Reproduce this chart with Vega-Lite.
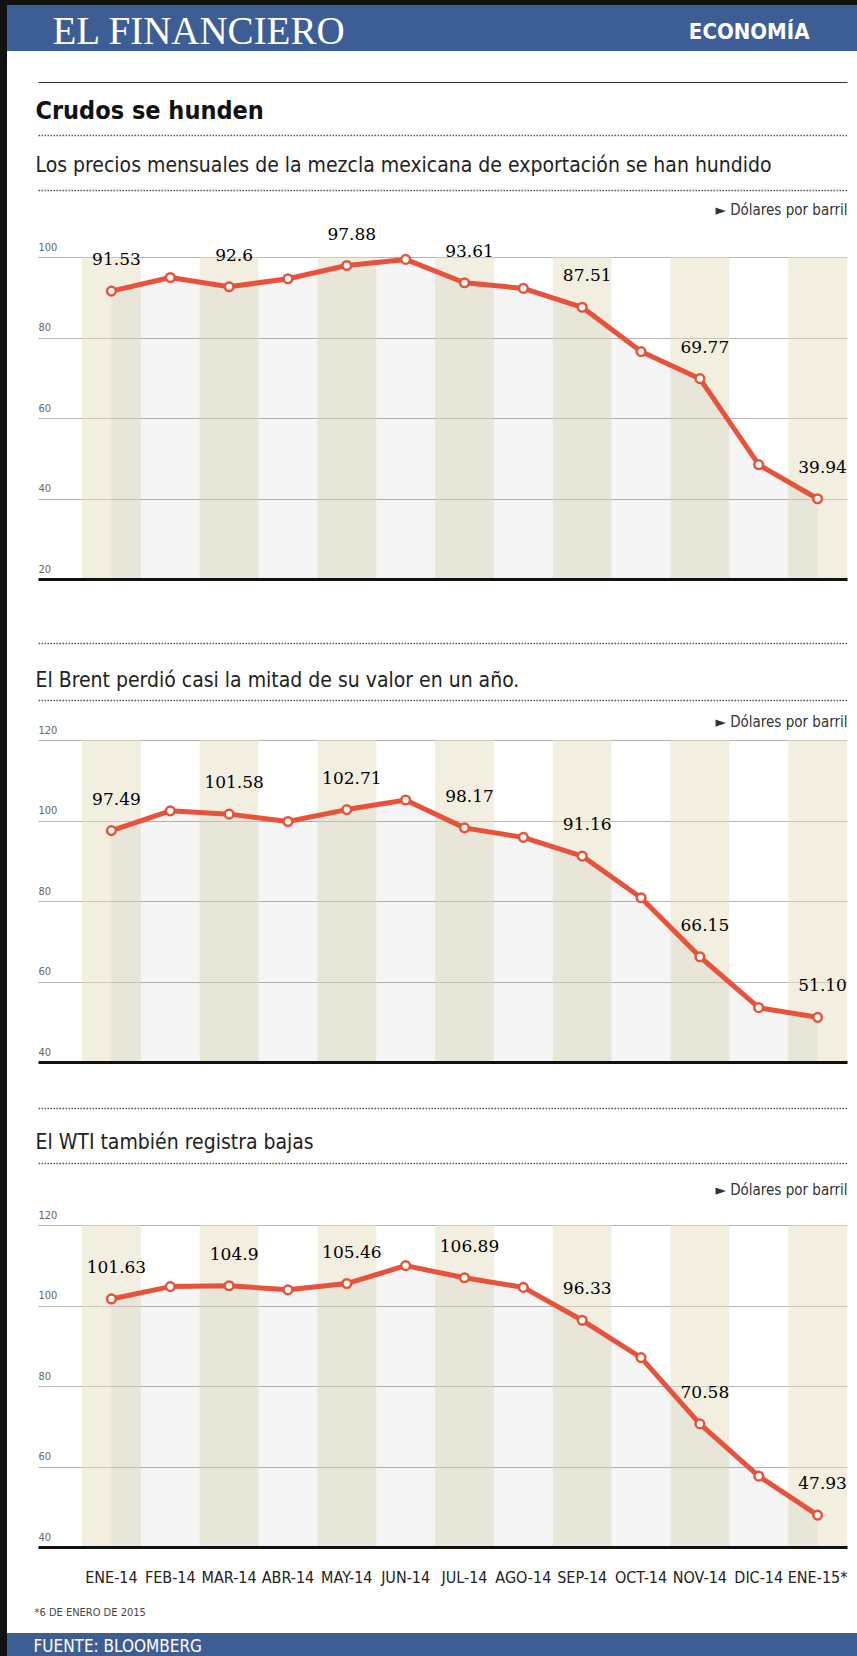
{
  "$schema": "https://vega.github.io/schema/vega-lite/v6.json",
  "padding": 0,
  "background": "white",
  "spacing": 0,
  "config": {
    "view": {"stroke": null},
    "font": "DejaVu Sans Condensed",
    "axis": {"labelFont": "DejaVu Sans Condensed", "titleFont": "DejaVu Sans Condensed", "titleFontWeight": "normal", "titleColor": "#222", "labelColor": "#555", "titleLimit": 2000},
    "axisX": {"labels": false, "ticks": false, "grid": false, "domain": false, "minExtent": 0}
  },
  "datasets": {
    "precios": [
      {"mes": "ENE-14", "mezcla": 91.53, "brent": 97.49, "wti": 101.63},
      {"mes": "FEB-14", "mezcla": 94.9, "brent": 102.4, "wti": 104.7},
      {"mes": "MAR-14", "mezcla": 92.6, "brent": 101.58, "wti": 104.9},
      {"mes": "ABR-14", "mezcla": 94.6, "brent": 99.75, "wti": 103.9},
      {"mes": "MAY-14", "mezcla": 97.88, "brent": 102.71, "wti": 105.46},
      {"mes": "JUN-14", "mezcla": 99.4, "brent": 105.1, "wti": 109.9},
      {"mes": "JUL-14", "mezcla": 93.61, "brent": 98.17, "wti": 106.89},
      {"mes": "AGO-14", "mezcla": 92.2, "brent": 95.8, "wti": 104.5},
      {"mes": "SEP-14", "mezcla": 87.51, "brent": 91.16, "wti": 96.33},
      {"mes": "OCT-14", "mezcla": 76.5, "brent": 80.8, "wti": 87.05},
      {"mes": "NOV-14", "mezcla": 69.77, "brent": 66.15, "wti": 70.58},
      {"mes": "DIC-14", "mezcla": 48.4, "brent": 53.5, "wti": 57.6},
      {"mes": "ENE-15*", "mezcla": 39.94, "brent": 51.1, "wti": 47.93}
    ]
  },
  "vconcat": [
    {
      "width": 857, "height": 5,
      "view": {"fill": "#111111", "stroke": null},
      "data": {"values": []},
      "mark": "point"
    },
    {
      "spacing": 0,
      "hconcat": [
        {
          "width": 7, "height": 76,
          "view": {"fill": "#111111", "stroke": null},
          "data": {"values": []},
          "mark": "point"
        },
        {
          "width": 850, "height": 46,
          "view": {"fill": "#3d5e95", "stroke": null},
          "data": {"values": [{"marca": "EL FINANCIERO", "seccion": "ECONOMÍA"}]},
          "mark": {"type": "text"},
          "encoding": {
            "text": {"value": ""},
            "x": {"field": "seccion", "type": "nominal", "axis": {"orient": "bottom", "offset": 30, "domain": false, "labels": false, "ticks": false, "title": "ECONOMÍA", "titleX": 802, "titleY": -43, "titleAlign": "right", "titleBaseline": "alphabetic", "titleFont": "DejaVu Sans Condensed", "titleFontWeight": "bold", "titleFontSize": 22, "titleColor": "white"}},
            "y": {"field": "marca", "type": "nominal", "axis": {"domain": false, "ticks": false, "labels": false, "grid": false, "minExtent": 0, "maxExtent": 0, "title": "EL FINANCIERO", "titleAngle": 0, "titleX": 45, "titleY": 38, "titleAlign": "left", "titleBaseline": "alphabetic", "titleFont": "Liberation Serif", "titleFontWeight": "normal", "titleFontSize": 39, "titleColor": "white"}}
          }
        }
      ]
    },
    {
      "spacing": 0,
      "hconcat": [
        {
          "width": 7, "height": 1552,
          "view": {"fill": "#111111", "stroke": null},
          "data": {"values": []},
          "mark": "point"
        },
        {
          "spacing": 0,
          "vconcat": [
            {
              "width": 809, "height": 1,
              "data": {"values": []},
              "mark": "point"
            },
            {
              "width": 809, "height": 322,
              "data": {"name": "precios"},
              "resolve": {"axis": {"x": "independent"}},
              "layer": [
                {
                  "transform": [{"filter": {"field": "mes", "oneOf": ["ENE-14", "MAR-14", "MAY-14", "JUL-14", "SEP-14", "NOV-14", "ENE-15*"]}}],
                  "mark": {"type": "rect", "fill": "#e6dfc4", "opacity": 0.5},
                  "encoding": {
                    "x": {"field": "mes", "type": "nominal", "scale": {"type": "band", "domain": ["ENE-14", "FEB-14", "MAR-14", "ABR-14", "MAY-14", "JUN-14", "JUL-14", "AGO-14", "SEP-14", "OCT-14", "NOV-14", "DIC-14", "ENE-15*"], "paddingInner": 0, "paddingOuter": 0.3739, "align": 1},
                      "axis": {"orient": "bottom", "domain": true, "domainColor": "#111", "domainWidth": 3, "title": "► Dólares por barril", "titleX": 809, "titleY": -365, "titleAlign": "right", "titleBaseline": "alphabetic", "titleFontSize": 15, "titleColor": "#333"}}
                  }
                },
                {
                  "mark": {"type": "area", "color": "#777777", "opacity": 0.07, "clip": true},
                  "encoding": {
                    "x": {"field": "mes", "type": "nominal", "scale": {"type": "band", "domain": ["ENE-14", "FEB-14", "MAR-14", "ABR-14", "MAY-14", "JUN-14", "JUL-14", "AGO-14", "SEP-14", "OCT-14", "NOV-14", "DIC-14", "ENE-15*"], "paddingInner": 0, "paddingOuter": 0.3739, "align": 1},
                      "axis": {"orient": "top", "offset": 175, "domain": true, "domainColor": "#333", "domainWidth": 1.2, "title": null}},
                    "y": {"field": "mezcla", "type": "quantitative", "scale": {"domain": [20, 100], "zero": false, "nice": false},
                      "axis": {"orient": "left", "values": [20, 40, 60, 80, 100], "grid": true, "gridColor": "#b3b3b3", "gridWidth": 1, "domain": false, "ticks": false, "labelAlign": "left", "labelBaseline": "alphabetic", "labelPadding": 0, "labelOffset": -7, "labelFontSize": 11, "labelColor": "#666", "minExtent": 31, "maxExtent": 31, "title": null}}
                  }
                },
                {
                  "mark": {"type": "line", "color": "#e8513a", "strokeWidth": 5, "strokeJoin": "round"},
                  "encoding": {
                    "x": {"field": "mes", "type": "nominal", "scale": {"type": "band", "domain": ["ENE-14", "FEB-14", "MAR-14", "ABR-14", "MAY-14", "JUN-14", "JUL-14", "AGO-14", "SEP-14", "OCT-14", "NOV-14", "DIC-14", "ENE-15*"], "paddingInner": 0, "paddingOuter": 0.3739, "align": 1},
                      "axis": {"orient": "top", "offset": 122, "domain": true, "domainColor": "#555", "domainDash": [1.5, 1.5], "domainWidth": 1.5, "title": "Crudos se hunden", "titleX": -3, "titleY": -17, "titleAlign": "left", "titleBaseline": "alphabetic", "titleFontSize": 25, "titleFontWeight": "bold", "titleColor": "#111"}},
                    "y": {"field": "mezcla", "type": "quantitative", "scale": {"domain": [20, 100], "zero": false, "nice": false}, "title": null}
                  }
                },
                {
                  "mark": {"type": "point", "shape": "circle", "filled": true, "fill": "white", "stroke": "#e8513a", "strokeWidth": 2.5, "size": 75, "opacity": 1},
                  "encoding": {
                    "x": {"field": "mes", "type": "nominal", "scale": {"type": "band", "domain": ["ENE-14", "FEB-14", "MAR-14", "ABR-14", "MAY-14", "JUN-14", "JUL-14", "AGO-14", "SEP-14", "OCT-14", "NOV-14", "DIC-14", "ENE-15*"], "paddingInner": 0, "paddingOuter": 0.3739, "align": 1},
                      "axis": {"orient": "top", "offset": 67, "domain": true, "domainColor": "#555", "domainDash": [1.5, 1.5], "domainWidth": 1.5, "title": "Los precios mensuales de la mezcla mexicana de exportación se han hundido", "titleX": -3, "titleY": -19, "titleAlign": "left", "titleBaseline": "alphabetic", "titleFontSize": 21, "titleColor": "#222"}},
                    "y": {"field": "mezcla", "type": "quantitative", "scale": {"domain": [20, 100], "zero": false, "nice": false}, "title": null}
                  }
                },
                {
                  "transform": [{"filter": {"field": "mes", "oneOf": ["ENE-14", "MAR-14", "MAY-14", "JUL-14", "SEP-14", "NOV-14", "ENE-15*"]}}],
                  "mark": {"type": "text", "font": "DejaVu Serif", "fontSize": 17, "color": "#000", "dy": -31, "dx": 5},
                  "encoding": {
                    "x": {"field": "mes", "type": "nominal", "scale": {"type": "band", "domain": ["ENE-14", "FEB-14", "MAR-14", "ABR-14", "MAY-14", "JUN-14", "JUL-14", "AGO-14", "SEP-14", "OCT-14", "NOV-14", "DIC-14", "ENE-15*"], "paddingInner": 0, "paddingOuter": 0.3739, "align": 1}, "axis": null},
                    "y": {"field": "mezcla", "type": "quantitative", "scale": {"domain": [20, 100], "zero": false, "nice": false}, "title": null},
                    "text": {"field": "mezcla", "type": "quantitative"}
                  }
                }
              ]
            },
            {
              "width": 809, "height": 322,
              "data": {"name": "precios"},
              "resolve": {"axis": {"x": "independent"}},
              "layer": [
                {
                  "transform": [{"filter": {"field": "mes", "oneOf": ["ENE-14", "MAR-14", "MAY-14", "JUL-14", "SEP-14", "NOV-14", "ENE-15*"]}}],
                  "mark": {"type": "rect", "fill": "#e6dfc4", "opacity": 0.5},
                  "encoding": {
                    "x": {"field": "mes", "type": "nominal", "scale": {"type": "band", "domain": ["ENE-14", "FEB-14", "MAR-14", "ABR-14", "MAY-14", "JUN-14", "JUL-14", "AGO-14", "SEP-14", "OCT-14", "NOV-14", "DIC-14", "ENE-15*"], "paddingInner": 0, "paddingOuter": 0.3739, "align": 1},
                      "axis": {"orient": "bottom", "domain": true, "domainColor": "#111", "domainWidth": 3, "title": null}}
                  }
                },
                {
                  "mark": {"type": "area", "color": "#777777", "opacity": 0.07, "clip": true},
                  "encoding": {
                    "x": {"field": "mes", "type": "nominal", "scale": {"type": "band", "domain": ["ENE-14", "FEB-14", "MAR-14", "ABR-14", "MAY-14", "JUN-14", "JUL-14", "AGO-14", "SEP-14", "OCT-14", "NOV-14", "DIC-14", "ENE-15*"], "paddingInner": 0, "paddingOuter": 0.3739, "align": 1},
                      "axis": {"orient": "top", "offset": 161, "domain": false, "title": "► Dólares por barril", "titleX": 809, "titleY": 147, "titleAlign": "right", "titleBaseline": "alphabetic", "titleFontSize": 15, "titleColor": "#333"}},
                    "y": {"field": "brent", "type": "quantitative", "scale": {"domain": [40, 120], "zero": false, "nice": false},
                      "axis": {"orient": "left", "values": [40, 60, 80, 100, 120], "grid": true, "gridColor": "#b3b3b3", "gridWidth": 1, "domain": false, "ticks": false, "labelAlign": "left", "labelBaseline": "alphabetic", "labelPadding": 0, "labelOffset": -7, "labelFontSize": 11, "labelColor": "#666", "minExtent": 31, "maxExtent": 31, "title": null}}
                  }
                },
                {
                  "mark": {"type": "line", "color": "#e8513a", "strokeWidth": 5, "strokeJoin": "round"},
                  "encoding": {
                    "x": {"field": "mes", "type": "nominal", "scale": {"type": "band", "domain": ["ENE-14", "FEB-14", "MAR-14", "ABR-14", "MAY-14", "JUN-14", "JUL-14", "AGO-14", "SEP-14", "OCT-14", "NOV-14", "DIC-14", "ENE-15*"], "paddingInner": 0, "paddingOuter": 0.3739, "align": 1},
                      "axis": {"orient": "top", "offset": 97, "domain": true, "domainColor": "#555", "domainDash": [1.5, 1.5], "domainWidth": 1.5, "title": null}},
                    "y": {"field": "brent", "type": "quantitative", "scale": {"domain": [40, 120], "zero": false, "nice": false}, "title": null}
                  }
                },
                {
                  "mark": {"type": "point", "shape": "circle", "filled": true, "fill": "white", "stroke": "#e8513a", "strokeWidth": 2.5, "size": 75, "opacity": 1},
                  "encoding": {
                    "x": {"field": "mes", "type": "nominal", "scale": {"type": "band", "domain": ["ENE-14", "FEB-14", "MAR-14", "ABR-14", "MAY-14", "JUN-14", "JUL-14", "AGO-14", "SEP-14", "OCT-14", "NOV-14", "DIC-14", "ENE-15*"], "paddingInner": 0, "paddingOuter": 0.3739, "align": 1},
                      "axis": {"orient": "top", "offset": 40, "domain": true, "domainColor": "#555", "domainDash": [1.5, 1.5], "domainWidth": 1.5, "title": "El Brent perdió casi la mitad de su valor en un año.", "titleX": -3, "titleY": -14, "titleAlign": "left", "titleBaseline": "alphabetic", "titleFontSize": 21, "titleColor": "#222"}},
                    "y": {"field": "brent", "type": "quantitative", "scale": {"domain": [40, 120], "zero": false, "nice": false}, "title": null}
                  }
                },
                {
                  "transform": [{"filter": {"field": "mes", "oneOf": ["ENE-14", "MAR-14", "MAY-14", "JUL-14", "SEP-14", "NOV-14", "ENE-15*"]}}],
                  "mark": {"type": "text", "font": "DejaVu Serif", "fontSize": 17, "color": "#000", "dy": -31, "dx": 5},
                  "encoding": {
                    "x": {"field": "mes", "type": "nominal", "scale": {"type": "band", "domain": ["ENE-14", "FEB-14", "MAR-14", "ABR-14", "MAY-14", "JUN-14", "JUL-14", "AGO-14", "SEP-14", "OCT-14", "NOV-14", "DIC-14", "ENE-15*"], "paddingInner": 0, "paddingOuter": 0.3739, "align": 1}, "axis": null},
                    "y": {"field": "brent", "type": "quantitative", "scale": {"domain": [40, 120], "zero": false, "nice": false}, "title": null},
                    "text": {"field": "brent", "type": "quantitative", "format": ".2f"}
                  }
                }
              ]
            },
            {
              "width": 809, "height": 322,
              "data": {"name": "precios"},
              "resolve": {"axis": {"x": "independent"}},
              "layer": [
                {
                  "transform": [{"filter": {"field": "mes", "oneOf": ["ENE-14", "MAR-14", "MAY-14", "JUL-14", "SEP-14", "NOV-14", "ENE-15*"]}}],
                  "mark": {"type": "rect", "fill": "#e6dfc4", "opacity": 0.5},
                  "encoding": {
                    "x": {"field": "mes", "type": "nominal", "scale": {"type": "band", "domain": ["ENE-14", "FEB-14", "MAR-14", "ABR-14", "MAY-14", "JUN-14", "JUL-14", "AGO-14", "SEP-14", "OCT-14", "NOV-14", "DIC-14", "ENE-15*"], "paddingInner": 0, "paddingOuter": 0.3739, "align": 1},
                      "axis": {"orient": "bottom", "domain": true, "domainColor": "#111", "domainWidth": 3, "labels": true, "labelAngle": 0, "labelPadding": 35, "labelBaseline": "alphabetic", "labelFontSize": 16, "labelColor": "#222", "title": "*6 DE ENERO DE 2015", "titleX": -4, "titleY": 68, "titleAlign": "left", "titleBaseline": "alphabetic", "titleFontSize": 11, "titleColor": "#444"}}
                  }
                },
                {
                  "mark": {"type": "area", "color": "#777777", "opacity": 0.07, "clip": true},
                  "encoding": {
                    "x": {"field": "mes", "type": "nominal", "scale": {"type": "band", "domain": ["ENE-14", "FEB-14", "MAR-14", "ABR-14", "MAY-14", "JUN-14", "JUL-14", "AGO-14", "SEP-14", "OCT-14", "NOV-14", "DIC-14", "ENE-15*"], "paddingInner": 0, "paddingOuter": 0.3739, "align": 1},
                      "axis": {"orient": "top", "offset": 163, "domain": false, "title": null}},
                    "y": {"field": "wti", "type": "quantitative", "scale": {"domain": [40, 120], "zero": false, "nice": false},
                      "axis": {"orient": "left", "values": [40, 60, 80, 100, 120], "grid": true, "gridColor": "#b3b3b3", "gridWidth": 1, "domain": false, "ticks": false, "labelAlign": "left", "labelBaseline": "alphabetic", "labelPadding": 0, "labelOffset": -7, "labelFontSize": 11, "labelColor": "#666", "minExtent": 31, "maxExtent": 31, "title": null}}
                  }
                },
                {
                  "mark": {"type": "line", "color": "#e8513a", "strokeWidth": 5, "strokeJoin": "round"},
                  "encoding": {
                    "x": {"field": "mes", "type": "nominal", "scale": {"type": "band", "domain": ["ENE-14", "FEB-14", "MAR-14", "ABR-14", "MAY-14", "JUN-14", "JUL-14", "AGO-14", "SEP-14", "OCT-14", "NOV-14", "DIC-14", "ENE-15*"], "paddingInner": 0, "paddingOuter": 0.3739, "align": 1},
                      "axis": {"orient": "top", "offset": 117, "domain": true, "domainColor": "#555", "domainDash": [1.5, 1.5], "domainWidth": 1.5, "title": "► Dólares por barril", "titleX": 809, "titleY": 86, "titleAlign": "right", "titleBaseline": "alphabetic", "titleFontSize": 15, "titleColor": "#333"}},
                    "y": {"field": "wti", "type": "quantitative", "scale": {"domain": [40, 120], "zero": false, "nice": false}, "title": null}
                  }
                },
                {
                  "mark": {"type": "point", "shape": "circle", "filled": true, "fill": "white", "stroke": "#e8513a", "strokeWidth": 2.5, "size": 75, "opacity": 1},
                  "encoding": {
                    "x": {"field": "mes", "type": "nominal", "scale": {"type": "band", "domain": ["ENE-14", "FEB-14", "MAR-14", "ABR-14", "MAY-14", "JUN-14", "JUL-14", "AGO-14", "SEP-14", "OCT-14", "NOV-14", "DIC-14", "ENE-15*"], "paddingInner": 0, "paddingOuter": 0.3739, "align": 1},
                      "axis": {"orient": "top", "offset": 62, "domain": true, "domainColor": "#555", "domainDash": [1.5, 1.5], "domainWidth": 1.5, "title": "El WTI también registra bajas", "titleX": -3, "titleY": -15, "titleAlign": "left", "titleBaseline": "alphabetic", "titleFontSize": 21, "titleColor": "#222"}},
                    "y": {"field": "wti", "type": "quantitative", "scale": {"domain": [40, 120], "zero": false, "nice": false}, "title": null}
                  }
                },
                {
                  "transform": [{"filter": {"field": "mes", "oneOf": ["ENE-14", "MAR-14", "MAY-14", "JUL-14", "SEP-14", "NOV-14", "ENE-15*"]}}],
                  "mark": {"type": "text", "font": "DejaVu Serif", "fontSize": 17, "color": "#000", "dy": -31, "dx": 5},
                  "encoding": {
                    "x": {"field": "mes", "type": "nominal", "scale": {"type": "band", "domain": ["ENE-14", "FEB-14", "MAR-14", "ABR-14", "MAY-14", "JUN-14", "JUL-14", "AGO-14", "SEP-14", "OCT-14", "NOV-14", "DIC-14", "ENE-15*"], "paddingInner": 0, "paddingOuter": 0.3739, "align": 1},
                      "axis": {"orient": "bottom", "offset": 86, "domain": false, "title": null}},
                    "y": {"field": "wti", "type": "quantitative", "scale": {"domain": [40, 120], "zero": false, "nice": false}, "title": null},
                    "text": {"field": "wti", "type": "quantitative"}
                  }
                }
              ]
            }
          ]
        }
      ]
    },
    {
      "spacing": 0,
      "hconcat": [
        {
          "width": 7, "height": 23,
          "view": {"fill": "#111111", "stroke": null},
          "data": {"values": []},
          "mark": "point"
        },
        {
          "width": 850, "height": 23,
          "view": {"fill": "#3d5e95", "stroke": null},
          "data": {"values": [{"fuente": "Bloomberg"}]},
          "mark": {"type": "text"},
          "encoding": {
            "text": {"value": ""},
            "x": {"field": "fuente", "type": "nominal", "axis": {"orient": "bottom", "domain": false, "labels": false, "ticks": false, "title": "FUENTE: BLOOMBERG", "titleX": 26, "titleY": -5, "titleAlign": "left", "titleBaseline": "alphabetic", "titleFontSize": 17, "titleColor": "white"}}
          }
        }
      ]
    }
  ]
}
